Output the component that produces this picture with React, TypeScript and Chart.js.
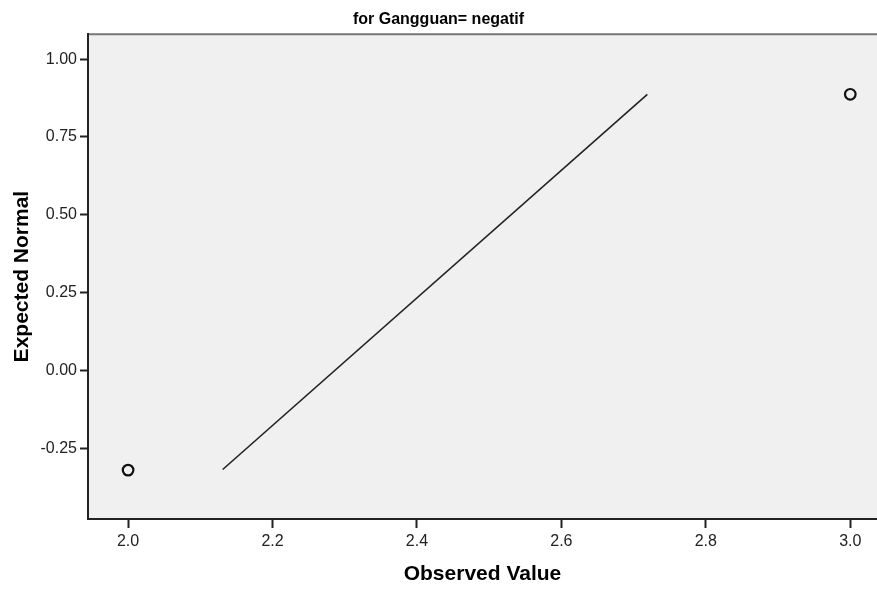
import React, { useEffect, useRef } from "react";
import { Chart, registerables } from "chart.js";

Chart.register(...registerables);

const chartTitle = "for Gangguan= negatif";
const xAxisTitle = "Observed Value";
const yAxisTitle = "Expected Normal";

const xTicks = [2.0, 2.2, 2.4, 2.6, 2.8, 3.0];
const yTicks = [-0.25, 0.0, 0.25, 0.5, 0.75, 1.0];

const observedValues = [2.0, 3.0];
const expectedNormal = [-0.32, 0.887];

const refLineX = [2.131, 2.719];
const refLineY = [-0.318, 0.887];

const xMin = 1.9445;
const xMax = 3.037;
const yMin = -0.477;
const yMax = 1.08;

const FONT = "Arial, 'Liberation Sans', sans-serif";

export default function App() {
  const ref = useRef<HTMLCanvasElement | null>(null);

  useEffect(() => {
    document.body.style.margin = "0";
    const canvas = ref.current;
    if (!canvas) return;

    const plotBg = {
      id: "plotBg",
      beforeDraw(chart: any) {
        const { ctx, chartArea } = chart;
        ctx.save();
        ctx.fillStyle = "#f0f0f0";
        ctx.fillRect(chartArea.left, chartArea.top, chartArea.right - chartArea.left, chartArea.bottom - chartArea.top);
        ctx.strokeStyle = "#777777";
        ctx.lineWidth = 2;
        ctx.beginPath();
        ctx.moveTo(chartArea.left, chartArea.top);
        ctx.lineTo(chartArea.right, chartArea.top);
        ctx.stroke();
        ctx.restore();
      },
    };

    const chart = new Chart(canvas, {
      type: "scatter",
      data: {
        datasets: [
          {
            label: "Reference",
            data: refLineX.map((x, i) => ({ x, y: refLineY[i] })),
            showLine: true,
            borderColor: "#222222",
            borderWidth: 1.6,
            pointRadius: 0,
            fill: false,
          },
          {
            label: "Observed",
            data: observedValues.map((x, i) => ({ x, y: expectedNormal[i] })),
            showLine: false,
            pointStyle: "circle",
            pointRadius: 5.3,
            pointBorderWidth: 2.2,
            borderColor: "#111111",
            backgroundColor: "rgba(0,0,0,0)",
            pointBackgroundColor: "rgba(0,0,0,0)",
          },
        ],
      },
      options: {
        responsive: false,
        maintainAspectRatio: false,
        animation: false,
        layout: { autoPadding: false, padding: { left: 0, right: 0, top: 0, bottom: 0 } },
        plugins: {
          legend: { display: false },
          tooltip: { enabled: false },
          title: {
            display: true,
            text: chartTitle,
            color: "#000000",
            font: { family: FONT, size: 16, weight: "bold", lineHeight: 1.2 },
            padding: { top: 10, bottom: 5 },
          },
        },
        scales: {
          x: {
            type: "linear",
            min: xMin,
            max: xMax,
            afterBuildTicks(scale: any) {
              scale.ticks = xTicks.map((v) => ({ value: v }));
            },
            afterFit(scale: any) {
              scale.height = 70;
              scale.paddingRight = 0;
              scale.paddingLeft = 0;
            },
            ticks: {
              color: "#222222",
              font: { family: FONT, size: 16 },
              padding: 4,
              callback: (v: any) => Number(v).toFixed(1),
              maxRotation: 0,
            },
            grid: {
              display: true,
              drawOnChartArea: false,
              drawTicks: true,
              tickLength: 9,
              tickWidth: 2,
              tickColor: "#222222",
              color: "#222222",
            },
            border: { display: true, color: "#222222", width: 2 },
            title: {
              display: true,
              text: xAxisTitle,
              color: "#000000",
              font: { family: FONT, size: 21, weight: "bold", lineHeight: 1.2 },
              padding: { top: 0, bottom: 2 },
            },
          },
          y: {
            type: "linear",
            min: yMin,
            max: yMax,
            afterBuildTicks(scale: any) {
              scale.ticks = yTicks.map((v) => ({ value: v }));
            },
            afterFit(scale: any) {
              scale.width = 88;
              scale.paddingTop = 0;
              scale.paddingBottom = 0;
            },
            ticks: {
              color: "#222222",
              font: { family: FONT, size: 16 },
              padding: 3,
              callback: (v: any) => Number(v).toFixed(2),
            },
            grid: {
              display: true,
              drawOnChartArea: false,
              drawTicks: true,
              tickLength: 8,
              tickWidth: 2,
              tickColor: "#222222",
              color: "#222222",
            },
            border: { display: true, color: "#222222", width: 2 },
            title: {
              display: true,
              text: yAxisTitle,
              color: "#000000",
              font: { family: FONT, size: 21, weight: "bold", lineHeight: 1.2 },
              padding: { top: 10, bottom: 0 },
            },
          },
        },
      },
      plugins: [plotBg],
    });

    return () => chart.destroy();
  }, []);

  return (
    <div style={{ width: 877, height: 589 }}>
      <canvas ref={ref} width={877} height={589} style={{ width: 877, height: 589, display: "block" }} />
    </div>
  );
}
